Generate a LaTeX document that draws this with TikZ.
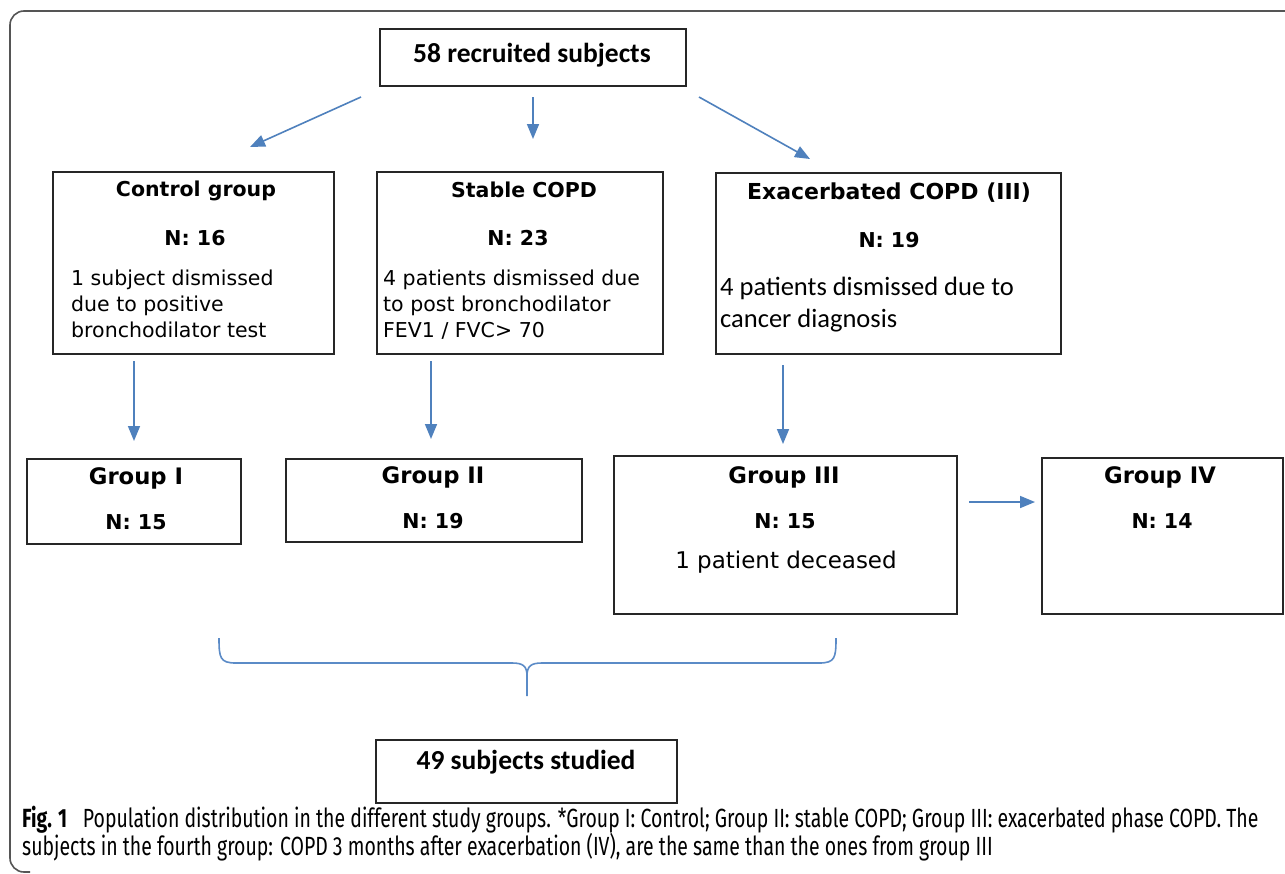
\documentclass[tikz,border=0pt]{standalone}
\usepackage{fontspec}
\setmainfont{DejaVu Sans}
\newfontfamily\calfont{Carlito}
\newfontfamily\capfont[FakeStretch=0.74]{Fira Sans}
\usetikzlibrary{arrows.meta,calc}
\definecolor{arrblue}{HTML}{4F81BD}
\definecolor{braceblue}{HTML}{5B8BC7}
\definecolor{framegray}{HTML}{555555}
\begin{document}
\begin{tikzpicture}[x=1pt,y=-1pt,
  box/.style={draw=black!85,line width=2pt,inner sep=0pt,rectangle},
  arr/.style={draw=arrblue,line width=1.6pt,-{Triangle[length=15pt,width=12pt]}},
  ttl/.style={font=\fontsize{20.5}{24}\selectfont\bfseries,inner sep=0pt},
  gttl/.style={font=\fontsize{22.7}{26}\selectfont\bfseries,inner sep=0pt},
  bod/.style={font=\fontsize{20.5}{26}\selectfont,inner sep=0pt,align=left,anchor=west},
  cal/.style={font=\calfont\fontsize{27.5}{30}\selectfont\bfseries,inner sep=0pt},
  calbod/.style={font=\calfont\fontsize{26.5}{32}\selectfont,inner sep=0pt,align=left,anchor=west},
  captxt/.style={font=\capfont\fontsize{26.3}{27}\selectfont,inner sep=0pt,anchor=west}]
\useasboundingbox (0,0) rectangle (1285,873);
\fill[white] (0,0) rectangle (1285,873);
% frame
\draw[framegray,line width=1.6pt] (1290,11) -- (24,11) arc[start angle=270,end angle=180,radius=14] -- (10,858) arc[start angle=180,end angle=90,radius=14] -- (30,872);
% boxes
\node[box,minimum width=306,minimum height=57] (top) at (533,57.5) {};
\node[box,minimum width=281,minimum height=182] (ctrl) at (193.5,263) {};
\node[box,minimum width=286,minimum height=182] (stab) at (520,263) {};
\node[box,minimum width=345,minimum height=181] (exac) at (888.5,263.5) {};
\node[box,minimum width=214,minimum height=85] (g1) at (134,501.5) {};
\node[box,minimum width=296,minimum height=83] (g2) at (434,500.5) {};
\node[box,minimum width=343,minimum height=158] (g3) at (785.5,535) {};
\node[box,minimum width=241,minimum height=156] (g4) at (1162.5,536) {};
\node[box,minimum width=301,minimum height=63] (res) at (526.5,771.5) {};
% texts
\node[cal] (ttop) at (532,55) {58 recruited subjects};
\node[ttl] (tctrl) at (196,191) {Control group};
\node[ttl] (nctrl) at (195,238) {N: 16};
\node[bod] (bctrl) at (71,304) {1 subject dismissed\\due to positive\\bronchodilator test};
\node[ttl] (tstab) at (524,190) {Stable COPD};
\node[ttl] (nstab) at (518,238) {N: 23};
\node[bod] (bstab) at (383,305) {4 patients dismissed due\\to post bronchodilator\\FEV1 / FVC> 70};
\node[ttl,font=\fontsize{22}{26}\selectfont\bfseries] (texac) at (889,193) {Exacerbated COPD (III)};
\node[ttl] (nexac) at (889,240) {N: 19};
\node[calbod] (bexac) at (720,305) {4 patients dismissed due to\\cancer diagnosis};
\node[gttl] (tg1) at (136,478) {Group I};
\node[ttl] (ng1) at (136,522) {N: 15};
\node[gttl] (tg2) at (433,477) {Group II};
\node[ttl] (ng2) at (433,521) {N: 19};
\node[gttl] (tg3) at (784,477) {Group III};
\node[ttl] (ng3) at (785,521) {N: 15};
\node[inner sep=0pt,font=\fontsize{23}{26}\selectfont] (dg3) at (786,562) {1 patient deceased};
\node[gttl] (tg4) at (1160,477) {Group IV};
\node[ttl] (ng4) at (1162,521) {N: 14};
\node[cal] (tres) at (526,762) {49 subjects studied};
% arrows
\draw[arr] ([shift={(-18,10)}]top.south west) -- ([shift={(56.5,-24)}]ctrl.north);
\draw[arr] ([shift={(0,10)}]top.south) -- ([shift={(13,-32)}]stab.north);
\draw[arr] ([shift={(12,10)}]top.south east) -- ([shift={(-78.5,-13)}]exac.north);
\draw[arr] ($(ctrl.south -| g1.north)+(0,6)$) -- ($(g1.north)+(0,-17)$);
\draw[arr] ($(stab.south -| g2.north)+(-3,6)$) -- ($(g2.north)+(-3,-19)$);
\draw[arr] ($(exac.south -| g3.north)+(-2.5,10)$) -- ($(g3.north)+(-2.5,-11)$);
\draw[arr] ([shift={(11,-33)}]g3.east) -- ([shift={(-6,-34)}]g4.west);
% brace
\draw[braceblue,line width=1.6pt] (219,638) .. controls (219,658) and (220,663) .. (236,663) -- (512,663) .. controls (523,663) and (527,666) .. (527,676) -- (527,696);
\draw[braceblue,line width=1.6pt] (836,638) .. controls (836,658) and (835,663) .. (819,663) -- (542,663) .. controls (531,663) and (527,666) .. (527,676);
% caption
\node[captxt] (cap1) at (22,820) {\textbf{Fig. 1}\hspace{0.6em}Population distribution in the different study groups. *Group I: Control; Group II: stable COPD; Group III: exacerbated phase COPD. The};
\node[captxt] (cap2) at (22,847) {subjects in the fourth group: COPD 3 months after exacerbation (IV), are the same than the ones from group III};
\end{tikzpicture}
\end{document}
